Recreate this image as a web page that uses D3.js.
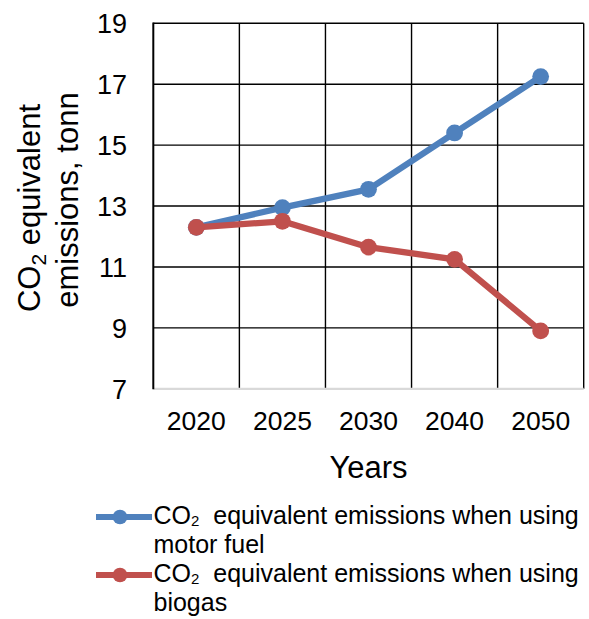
<!DOCTYPE html>
<html>
<head>
<meta charset="utf-8">
<script src="https://cdn.jsdelivr.net/npm/d3@7/dist/d3.min.js"></script>
<style>
  html, body { margin: 0; padding: 0; background: #fff; }
  svg { display: block; font-family: "Liberation Sans", Arial, sans-serif; }
  text { white-space: pre; }
</style>
</head>
<body>
<svg id="chart" width="589" height="619"></svg>
<script>
// Years on the category axis
const years = ["2020", "2025", "2030", "2040", "2050"];
// CO2 equivalent emissions, tonn
const motorFuel = [12.3, 12.95, 13.55, 15.4, 17.25];
const biogas = [12.3, 12.5, 11.65, 11.25, 8.9];
// Value axis ticks
const yTicks = [7, 9, 11, 13, 15, 17, 19];

const series = [
  { name: "motor fuel", values: motorFuel, color: "#4f81bd" },
  { name: "biogas", values: biogas, color: "#c0504d" }
];

const svg = d3.select("#chart");
const plot = { left: 153.3, right: 583.7, top: 23.3, bottom: 388.8 };

const x = d3.scaleBand().domain(years).range([plot.left, plot.right]).padding(0);
const y = d3.scaleLinear().domain([7, 19]).range([plot.bottom, plot.top]);

// Horizontal gridlines
svg.append("g").selectAll("line")
  .data(yTicks.filter(t => t > 7))
  .join("line")
  .attr("x1", plot.left).attr("x2", plot.right)
  .attr("y1", d => y(d)).attr("y2", d => y(d))
  .attr("stroke", "#000").attr("stroke-width", 1.4);

// Vertical gridlines at category boundaries
svg.append("g").selectAll("line")
  .data(years)
  .join("line")
  .attr("x1", d => x(d) + x.bandwidth()).attr("x2", d => x(d) + x.bandwidth())
  .attr("y1", plot.top).attr("y2", plot.bottom)
  .attr("stroke", "#000").attr("stroke-width", 1.4);

// Category axis (light grey)
svg.append("line")
  .attr("x1", plot.left).attr("x2", plot.right)
  .attr("y1", plot.bottom).attr("y2", plot.bottom)
  .attr("stroke", "#d9d9d9").attr("stroke-width", 2.2);

// Value axis
svg.append("line")
  .attr("x1", plot.left).attr("x2", plot.left)
  .attr("y1", plot.top - 0.7).attr("y2", plot.bottom + 0.5)
  .attr("stroke", "#000").attr("stroke-width", 2);

// Value tick labels
svg.append("g").selectAll("text")
  .data(yTicks)
  .join("text")
  .attr("x", 127)
  .attr("y", d => y(d) + 9.8)
  .attr("text-anchor", "end")
  .attr("font-size", 27)
  .attr("fill", "#000")
  .text(d => d);

// Category tick labels
svg.append("g").selectAll("text")
  .data(years)
  .join("text")
  .attr("x", d => x(d) + x.bandwidth() / 2)
  .attr("y", 430)
  .attr("text-anchor", "middle")
  .attr("font-size", 26.5)
  .attr("fill", "#000")
  .text(d => d);

// Axis titles
svg.append("text")
  .attr("x", (plot.left + plot.right) / 2)
  .attr("y", 478)
  .attr("text-anchor", "middle")
  .attr("font-size", 31)
  .text("Years");

const yMid = (plot.top + plot.bottom) / 2;
const t1 = svg.append("text")
  .attr("transform", `translate(40,${yMid + 2}) rotate(-90)`)
  .attr("text-anchor", "middle")
  .attr("font-size", 31);
t1.append("tspan").text("CO");
t1.append("tspan").attr("font-size", 21).attr("dy", 6).text("2");
t1.append("tspan").attr("dy", -6).text(" equivalent");

svg.append("text")
  .attr("transform", `translate(78,${yMid - 6}) rotate(-90)`)
  .attr("text-anchor", "middle")
  .attr("font-size", 31)
  .text("emissions, tonn");

// Series lines and markers
const line = d3.line()
  .x((d, i) => x(years[i]) + x.bandwidth() / 2)
  .y(d => y(d));

series.forEach(s => {
  const g = svg.append("g");
  g.append("path")
    .datum(s.values)
    .attr("d", line)
    .attr("fill", "none")
    .attr("stroke", s.color)
    .attr("stroke-width", 6.3)
    .attr("stroke-linejoin", "round");
  g.selectAll("circle")
    .data(s.values)
    .join("circle")
    .attr("cx", (d, i) => x(years[i]) + x.bandwidth() / 2)
    .attr("cy", d => y(d))
    .attr("r", 8.4)
    .attr("fill", s.color);
});

// Legend: one wrapped text block per series
const legendRows = [
  { color: series[0].color, y: 517, tail: "motor fuel" },
  { color: series[1].color, y: 575, tail: "biogas" }
];
legendRows.forEach(r => {
  svg.append("line")
    .attr("x1", 96).attr("x2", 152)
    .attr("y1", r.y).attr("y2", r.y)
    .attr("stroke", r.color).attr("stroke-width", 6);
  svg.append("circle")
    .attr("cx", 120).attr("cy", r.y).attr("r", 7.3)
    .attr("fill", r.color);
  const t = svg.append("text")
    .attr("x", 153.5).attr("y", r.y + 7)
    .attr("font-size", 25);
  t.append("tspan").text("CO");
  t.append("tspan").attr("font-size", 15).attr("dy", 1.5).text("2");
  t.append("tspan").attr("dy", -1.5).text("  equivalent emissions when using");
  t.append("tspan").attr("x", 153.5).attr("dy", 28.5).text(r.tail);
});
</script>
</body>
</html>
